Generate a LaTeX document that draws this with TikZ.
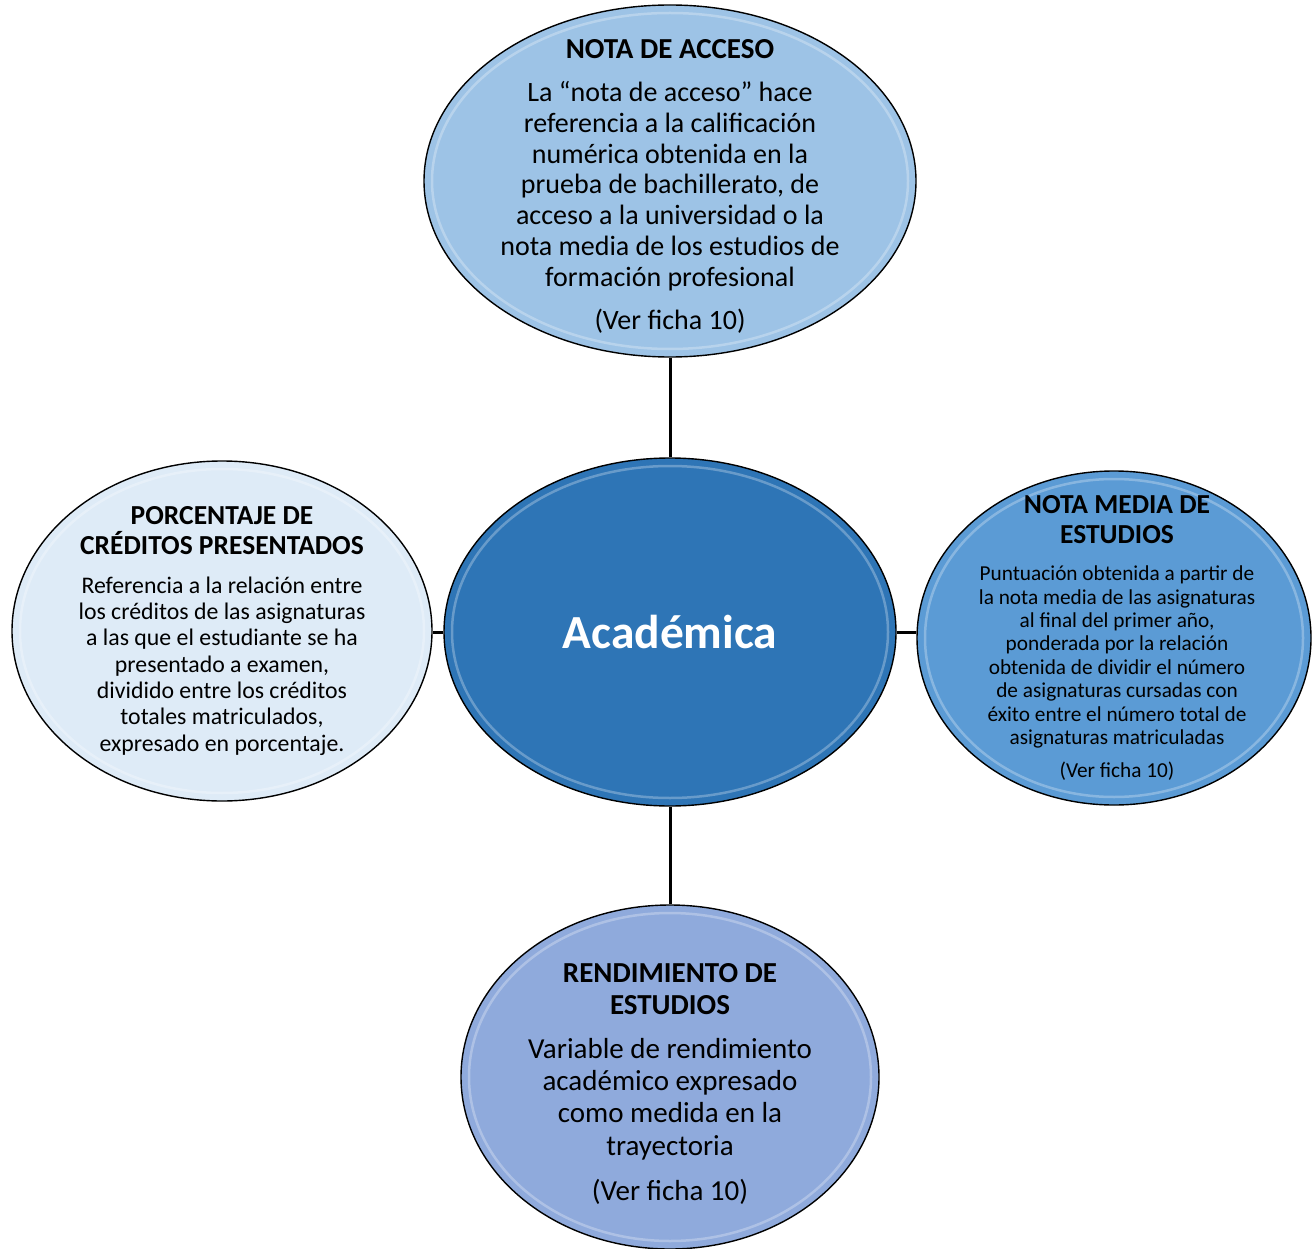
\documentclass[tikz,border=0pt]{standalone}
\usepackage{fontspec}
\setmainfont{Carlito}
\usetikzlibrary{shapes.geometric}
\definecolor{cTop}{HTML}{9DC3E6}
\definecolor{cCen}{HTML}{2E75B6}
\definecolor{cLeft}{HTML}{DEEBF7}
\definecolor{cRight}{HTML}{5B9BD5}
\definecolor{cBot}{HTML}{8FAADC}
\begin{document}
\begin{tikzpicture}[x=1pt,y=-1pt,
  bubble/.style={ellipse, draw=black, line width=1.4pt, inner sep=0pt},
  glint/.style={white, opacity=0.28, line width=2.5pt},
  link/.style={line width=3pt, black},
  txt/.style={align=center, inner sep=0pt, text=black}]
\useasboundingbox (0,0) rectangle (1312,1249);

% bubbles
\node[bubble, fill=cTop, minimum width=492pt, minimum height=352pt] (top) at (670,181) {};
\draw[glint] (670,181) ellipse [x radius=238, y radius=168];
\node[bubble, fill=cCen, minimum width=452pt, minimum height=348pt] (cen) at (670,632) {};
\draw[glint] (670,632) ellipse [x radius=218, y radius=166];
\node[bubble, fill=cLeft, minimum width=420pt, minimum height=340pt] (left) at (222,631) {};
\draw[glint] (222,631) ellipse [x radius=202, y radius=162];
\node[bubble, fill=cRight, minimum width=394pt, minimum height=334pt] (right) at (1114,638) {};
\draw[glint] (1114,638) ellipse [x radius=189, y radius=159];
\node[bubble, fill=cBot, minimum width=418pt, minimum height=344pt] (bot) at (670,1077) {};
\draw[glint] (670,1077) ellipse [x radius=201, y radius=164];

% connectors
\draw[link] (top.south) -- (cen.north);
\draw[link] (cen.south) -- (bot.north);
\draw[link] (cen.west) -- (cen.west -| left.east);
\draw[link] (cen.east) -- (cen.east -| right.west);

% texts
\node[txt, font=\bfseries\fontsize{29}{32}\selectfont] (topT) at (670,49) {NOTA DE ACCESO};
\node[txt, font=\fontsize{28}{30.8}\selectfont] (topB) at (670,186) {La “nota de acceso” hace\\referencia a la calificación\\numérica obtenida en la\\prueba de bachillerato, de\\acceso a la universidad o la\\nota media de los estudios de\\formación profesional};
\node[txt, font=\fontsize{28}{30.8}\selectfont] (topR) at (670,321) {(Ver ficha 10)};

\node[txt, font=\bfseries\fontsize{47.5}{52}\selectfont, text=white] (cenT) at (670,632) {Académica};

\node[txt, font=\bfseries\fontsize{27.5}{30}\selectfont] (leftT) at (222,531) {PORCENTAJE DE\\CRÉDITOS PRESENTADOS};
\node[txt, font=\fontsize{23.8}{26.3}\selectfont] (leftB) at (222,666) {Referencia a la relación entre\\los créditos de las asignaturas\\a las que el estudiante se ha\\presentado a examen,\\dividido entre los créditos\\totales matriculados,\\expresado en porcentaje.};

\node[txt, font=\bfseries\fontsize{27.5}{30}\selectfont] (rightT) at (1117,520) {NOTA MEDIA DE\\ESTUDIOS};
\node[txt, font=\fontsize{21.3}{23.4}\selectfont] (rightB) at (1117,657) {Puntuación obtenida a partir de\\la nota media de las asignaturas\\al final del primer año,\\ponderada por la relación\\obtenida de dividir el número\\de asignaturas cursadas con\\éxito entre el número total de\\asignaturas matriculadas};
\node[txt, font=\fontsize{21.3}{23.4}\selectfont] (rightR) at (1117,771) {(Ver ficha 10)};

\node[txt, font=\bfseries\fontsize{29}{32}\selectfont] (botT) at (670,989) {RENDIMIENTO DE\\ESTUDIOS};
\node[txt, font=\fontsize{29}{32.3}\selectfont] (botB) at (670,1099) {Variable de rendimiento\\académico expresado\\como medida en la\\trayectoria};
\node[txt, font=\fontsize{29}{32.3}\selectfont] (botR) at (670,1192) {(Ver ficha 10)};
\end{tikzpicture}
\end{document}
